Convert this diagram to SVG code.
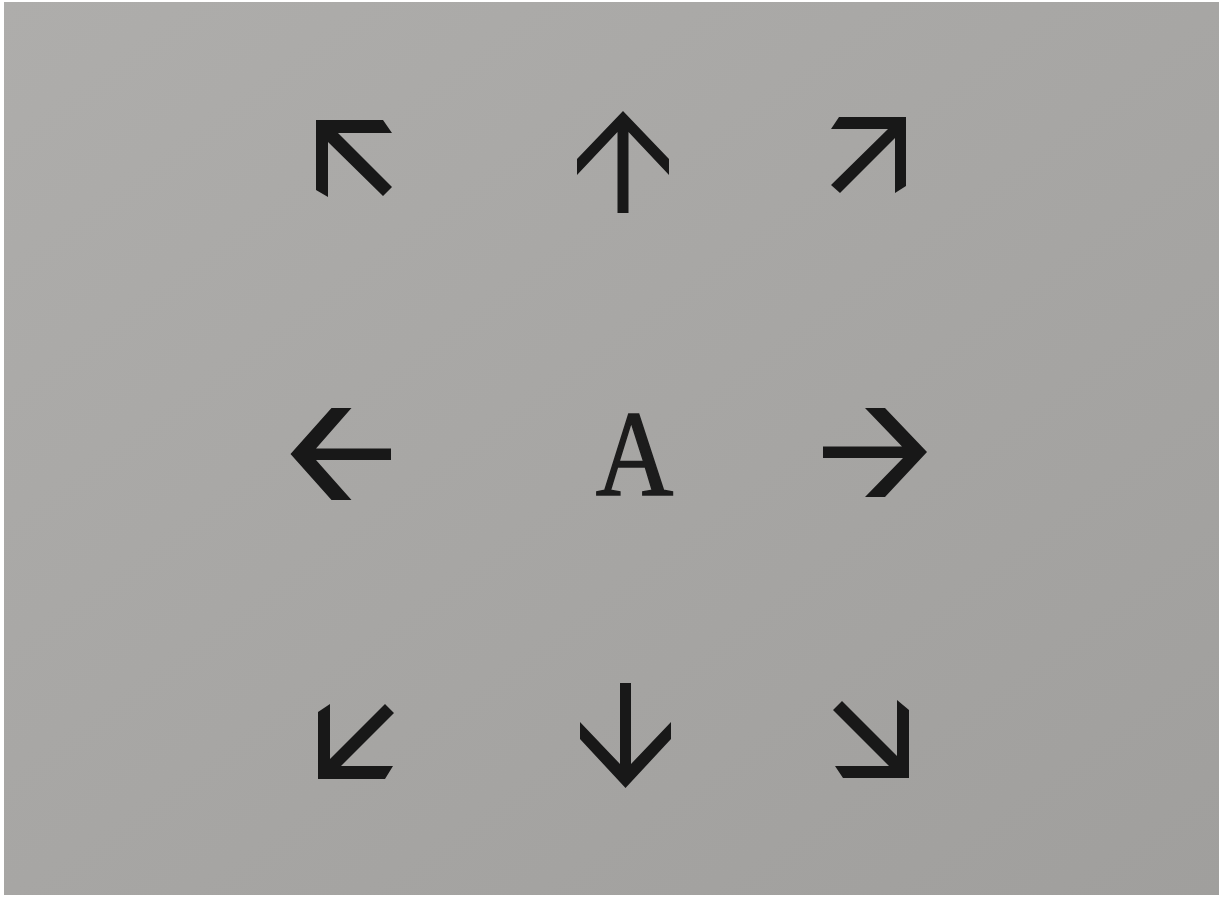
<svg xmlns="http://www.w3.org/2000/svg" width="1223" height="897" viewBox="0 0 1223 897">
  <defs>
    <linearGradient id="bg" x1="0" y1="0" x2="1" y2="1">
      <stop offset="0" stop-color="#aeadab"/>
      <stop offset="1" stop-color="#a09f9d"/>
    </linearGradient>
    <style>
      .arrow { fill: #181818; }
      .letter { font-family: "Liberation Serif", "DejaVu Serif", serif; font-size: 122px; fill: #1c1c1c; stroke: #1c1c1c; stroke-width: 1.6; text-anchor: middle; }
    </style>
  </defs>
  <rect x="0" y="0" width="1223" height="897" fill="#ffffff"/>
  <rect x="4" y="2" width="1215" height="893" fill="url(#bg)"/>

  <g id="arrow-up-left">
    <polygon class="arrow" points="316,120 383,120 392,133 338,133 392,187 383,196 328,142 328,197 316,190"/>
  </g>
  <g id="arrow-up">
    <polygon class="arrow" points="623,111 669,159 669,175 628.5,132 628.5,213 617.5,213 617.5,132 577,175 577,159"/>
  </g>
  <g id="arrow-up-right">
    <polygon class="arrow" points="906,117 906,186 895,193 895,138 840,193 831,185 888,129 831,129 839,117"/>
  </g>
  <g id="arrow-left">
    <polygon class="arrow" points="290.5,454 331.5,408 351.5,408 316,448.5 391,448.5 391,460 316,460 351.5,500 331.5,500"/>
  </g>
  <g id="letter-a">
    <text class="letter" transform="translate(634.5,495) scale(0.88,1)" x="0" y="0">A</text>
  </g>
  <g id="arrow-right">
    <polygon class="arrow" points="823,446.5 902,446.5 865,408 885,408 927,452 885,497 865,497 903,458 823,458"/>
  </g>
  <g id="arrow-down-left">
    <polygon class="arrow" points="318,779 385,779 393,766 341,766 394,713 385,704 330,759 330,704 318,712"/>
  </g>
  <g id="arrow-down">
    <polygon class="arrow" points="625.5,788 580,739 580,722 620,764 620,683 631,683 631,764 671,722 671,739"/>
  </g>
  <g id="arrow-down-right">
    <polygon class="arrow" points="909,778 843,778 835,766 889,766 833,710 842,701 897,756 897,700 909,710"/>
  </g>
  <g id="connectors"/>
</svg>
